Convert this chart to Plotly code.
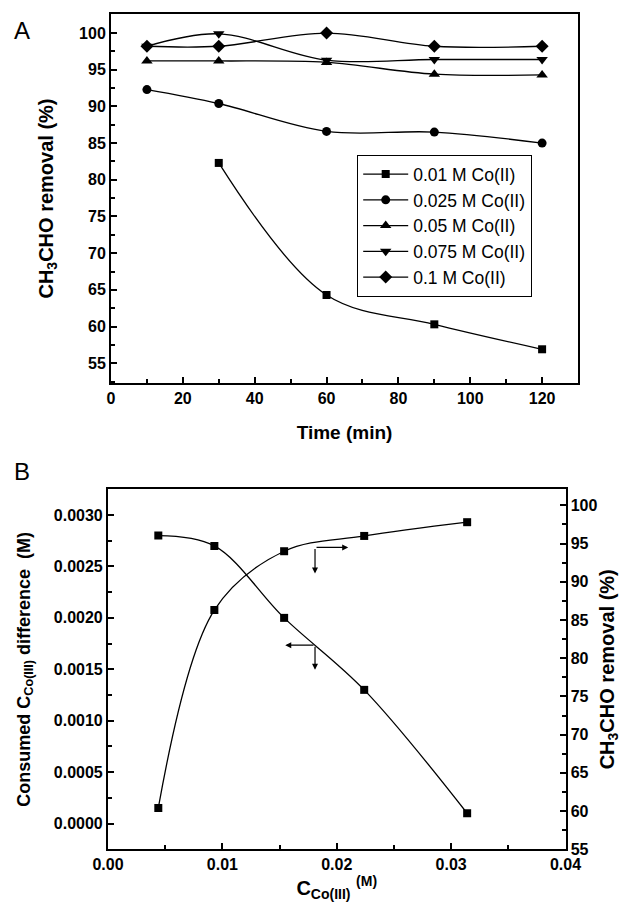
import plotly.graph_objects as go

# ---------- Panel A data ----------
time_min = [10, 30, 60, 90, 120]
time_001 = [30, 60, 90, 120]
rem_001 = [82.3, 64.3, 60.3, 56.9]
rem_0025 = [92.3, 90.4, 86.6, 86.5, 85.0]
rem_005 = [96.2, 96.2, 96.0, 94.4, 94.3]
rem_0075 = [98.2, 99.9, 96.3, 96.4, 96.4]
rem_01 = [98.2, 98.2, 100.0, 98.2, 98.2]
names_A = ["0.01 M Co(II)", "0.025 M Co(II)", "0.05 M Co(II)", "0.075 M Co(II)", "0.1 M Co(II)"]

# ---------- Panel B data ----------
c_co3 = [0.0044, 0.0093, 0.0154, 0.0224, 0.0314]
consumed_diff = [0.0028, 0.0027, 0.0020, 0.0013, 0.0001]
removal_B = [60.4, 86.3, 94.0, 96.0, 97.8]

# ---------- Tick labels ----------
A_x_ticks = [0, 20, 40, 60, 80, 100, 120]
A_x_labels = ["0", "20", "40", "60", "80", "100", "120"]
A_y_ticks = [55, 60, 65, 70, 75, 80, 85, 90, 95, 100]
A_y_labels = ["55", "60", "65", "70", "75", "80", "85", "90", "95", "100"]
B_x_ticks = [0.0, 0.01, 0.02, 0.03, 0.04]
B_x_labels = ["0.00", "0.01", "0.02", "0.03", "0.04"]
B_yl_ticks = [0.0, 0.0005, 0.001, 0.0015, 0.002, 0.0025, 0.003]
B_yl_labels = ["0.0000", "0.0005", "0.0010", "0.0015", "0.0020", "0.0025", "0.0030"]
B_yr_ticks = [55, 60, 65, 70, 75, 80, 85, 90, 95, 100]
B_yr_labels = ["55", "60", "65", "70", "75", "80", "85", "90", "95", "100"]

FONT = "Arial, Liberation Sans, sans-serif"
BLACK = "black"
W, H = 613, 894  # page body margin of 8 px leaves this much room

fig = go.Figure()

series_A = [
    (time_001, rem_001, "square", 8),
    (time_min, rem_0025, "circle", 9),
    (time_min, rem_005, "triangle-up", 10),
    (time_min, rem_0075, "triangle-down", 10),
    (time_min, rem_01, "diamond", 10),
]
for (xs, ys, sym, sz), nm in zip(series_A, names_A):
    fig.add_trace(go.Scatter(
        x=xs, y=ys, name=nm, mode="lines+markers",
        line=dict(color=BLACK, width=1.3, shape="spline", smoothing=1.0),
        marker=dict(symbol=sym, size=sz, color=BLACK),
        xaxis="x", yaxis="y",
    ))

fig.add_trace(go.Scatter(
    x=c_co3, y=consumed_diff, mode="lines+markers", showlegend=False,
    line=dict(color=BLACK, width=1.3, shape="spline", smoothing=1.0),
    marker=dict(symbol="square", size=8, color=BLACK),
    xaxis="x2", yaxis="y2",
))
fig.add_trace(go.Scatter(
    x=c_co3, y=removal_B, mode="lines+markers", showlegend=False,
    line=dict(color=BLACK, width=1.3, shape="spline", smoothing=1.0),
    marker=dict(symbol="square", size=8, color=BLACK),
    xaxis="x2", yaxis="y3",
))

def bold(labels):
    return ["<b>%s</b>" % s for s in labels]

tickfont = dict(family=FONT, size=16, color=BLACK)
def tfont(size):
    return dict(family=FONT, size=size, color=BLACK)
common = dict(showline=True, linecolor=BLACK, linewidth=2, ticks="inside",
              tickcolor=BLACK, tickwidth=1.5, ticklen=6, showgrid=False,
              zeroline=False, tickfont=tickfont, automargin=False, tickmode="array")
minor = dict(ticks="inside", ticklen=4, tickcolor=BLACK, tickwidth=1.5, showgrid=False)

fig.update_layout(
    width=W, height=H,
    margin=dict(l=0, r=0, t=0, b=0),
    paper_bgcolor="white", plot_bgcolor="white",
    font=dict(family=FONT, color=BLACK),
    xaxis=dict(domain=[0.1680, 0.9299], range=[0, 130],
               tickvals=A_x_ticks, ticktext=bold(A_x_labels),
               minor=dict(dtick=10, tick0=0, **minor), mirror=True, anchor="y",
               title=dict(text="<b>Time (min)</b>", font=tfont(19), standoff=19), **common),
    yaxis=dict(domain=[0.5805, 0.9933], range=[52.3, 102.6],
               tickvals=A_y_ticks, ticktext=bold(A_y_labels),
               minor=dict(dtick=2.5, tick0=0, **minor), mirror=True, anchor="x",
               title=dict(text="<b>CH<sub>3</sub>CHO removal (%)</b>", font=tfont(20), standoff=20), **common),
    xaxis2=dict(domain=[0.1631, 0.9095], range=[0, 0.04],
                tickvals=B_x_ticks, ticktext=bold(B_x_labels),
                minor=dict(dtick=0.005, tick0=0, **minor), mirror=True, anchor="y2",
                title=dict(text="<b>C<sub>Co(III)</sub> <sup>(M)</sup></b>", font=tfont(20), standoff=24), **common),
    yaxis2=dict(domain=[0.0590, 0.4616], range=[-0.00025, 0.00325],
                tickvals=B_yl_ticks, ticktext=bold(B_yl_labels),
                minor=dict(dtick=0.00025, tick0=0, **minor), anchor="x2",
                title=dict(text="<b>Consumed C<sub>Co(III)</sub> difference  (M)</b>", font=tfont(18), standoff=19),
                **common),
    yaxis3=dict(range=[55, 102.1],
                tickvals=B_yr_ticks, ticktext=bold(B_yr_labels),
                minor=dict(dtick=2.5, tick0=0, **minor),
                overlaying="y2", side="right", anchor="x2",
                title=dict(text="<b>CH<sub>3</sub>CHO removal (%)</b>", font=tfont(20), standoff=10), **common),
    legend=dict(x=(357 - 8) / W, y=1 - (155 - 8) / H, xanchor="left", yanchor="top",
                bordercolor=BLACK, borderwidth=1.2, bgcolor="white",
                font=dict(family=FONT, size=17.5, color=BLACK),
                itemwidth=45, tracegroupgap=0),
    showlegend=True,
)

# Panel labels
fig.add_annotation(text="A", x=(12 - 8) / W, y=1 - (30 - 8) / H, xref="paper", yref="paper",
                   xanchor="left", yanchor="middle", showarrow=False,
                   font=dict(family=FONT, size=24, color=BLACK))
fig.add_annotation(text="B", x=(12 - 8) / W, y=1 - (471 - 8) / H, xref="paper", yref="paper",
                   xanchor="left", yanchor="middle", showarrow=False,
                   font=dict(family=FONT, size=24, color=BLACK))

# Indicator arrows in panel B
arrow_junction_x = 0.0181
upper_y, upper_x_end, upper_y_end = 94.5, 0.0210, 91.1
lower_y, lower_x_end, lower_y_end = 0.001735, 0.0155, 0.001495

def arrow(x, y, ax, ay, xref, yref):
    fig.add_annotation(x=x, y=y, ax=ax, ay=ay, xref=xref, yref=yref, axref=xref, ayref=yref,
                       showarrow=True, arrowhead=2, arrowsize=1, arrowwidth=1.2,
                       arrowcolor=BLACK, text="")

arrow(upper_x_end, upper_y, arrow_junction_x, upper_y, "x2", "y3")
arrow(arrow_junction_x, upper_y_end, arrow_junction_x, upper_y, "x2", "y3")
arrow(lower_x_end, lower_y, arrow_junction_x, lower_y, "x2", "y2")
arrow(arrow_junction_x, lower_y_end, arrow_junction_x, lower_y, "x2", "y2")

fig.write_html("out.html")
